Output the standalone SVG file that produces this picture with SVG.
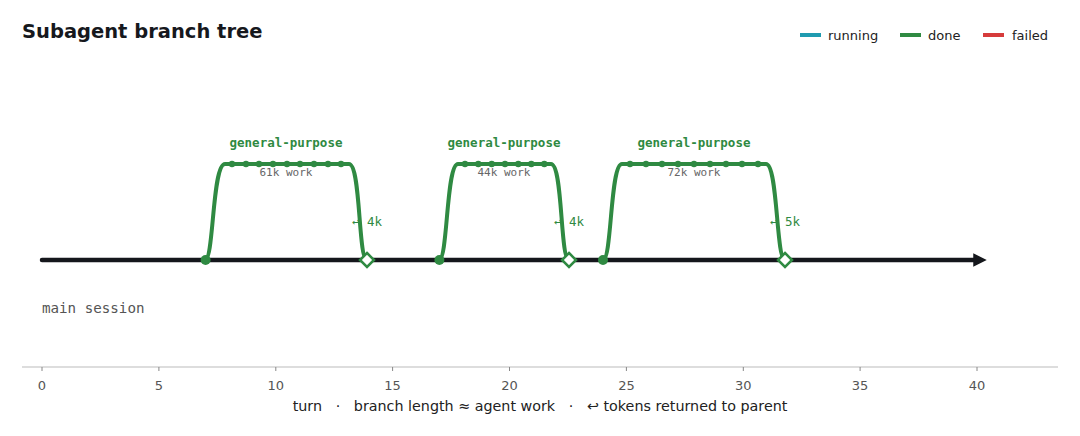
<svg xmlns="http://www.w3.org/2000/svg" width="1080" height="436" viewBox="0 0 1080 436">
<defs>
<style>
.title{font-family:"DejaVu Sans",sans-serif;font-weight:bold;font-size:19.5px;fill:#16181d}
.leg{font-family:"DejaVu Sans",sans-serif;font-size:13px;fill:#222}
.mono{font-family:"DejaVu Sans Mono",monospace}
.bl{font-size:12.5px;font-weight:bold;fill:#2f8a42}
.work{font-size:11px;fill:#666}
.ret{font-size:12.5px;fill:#2f8a42}
.tick{font-family:"DejaVu Sans",sans-serif;font-size:13px;fill:#555;text-anchor:middle}
.cap{font-family:"DejaVu Sans",sans-serif;font-size:14.3px;fill:#222;white-space:pre}
.branch{fill:none;stroke:#2f8a42;stroke-width:4;stroke-linejoin:round}
.dot{fill:#2f8a42}
.dia{fill:#fff;stroke:#2f8a42;stroke-width:2.5}
</style>
<marker id="arr" viewBox="0 0 10 10" refX="5" refY="5" markerWidth="3" markerHeight="3" orient="auto" markerUnits="strokeWidth">
<path d="M0,0 L10,5 L0,10 z" fill="#15171c"/>
</marker>
</defs>
<rect width="1080" height="436" fill="#fff"/>
<text class="title" x="22" y="38">Subagent branch tree</text>
<g id="legend">
<line x1="800" y1="35" x2="821" y2="35" stroke="#1f9bb0" stroke-width="4"/>
<text class="leg" x="828" y="40">running</text>
<line x1="900" y1="35" x2="921" y2="35" stroke="#2f8a42" stroke-width="4"/>
<text class="leg" x="928" y="40">done</text>
<line x1="983" y1="35" x2="1004" y2="35" stroke="#d63b3b" stroke-width="4"/>
<text class="leg" x="1012" y="40">failed</text>
</g>
<g id="axis">
<line x1="22" y1="367" x2="1058" y2="367" stroke="#bbb" stroke-width="1.2"/>
<g stroke="#888" stroke-width="1">
<line x1="42" y1="367" x2="42" y2="371"/>
<line x1="158.9" y1="367" x2="158.9" y2="371"/>
<line x1="275.8" y1="367" x2="275.8" y2="371"/>
<line x1="392.6" y1="367" x2="392.6" y2="371"/>
<line x1="509.5" y1="367" x2="509.5" y2="371"/>
<line x1="626.4" y1="367" x2="626.4" y2="371"/>
<line x1="743.3" y1="367" x2="743.3" y2="371"/>
<line x1="860.1" y1="367" x2="860.1" y2="371"/>
<line x1="977" y1="367" x2="977" y2="371"/>
</g>
<text class="tick" x="42" y="390">0</text>
<text class="tick" x="158.9" y="390">5</text>
<text class="tick" x="275.8" y="390">10</text>
<text class="tick" x="392.6" y="390">15</text>
<text class="tick" x="509.5" y="390">20</text>
<text class="tick" x="626.4" y="390">25</text>
<text class="tick" x="743.3" y="390">30</text>
<text class="tick" x="860.1" y="390">35</text>
<text class="tick" x="977" y="390">40</text>
<text class="cap" x="540" y="411" text-anchor="middle">turn   ·   branch length ≈ agent work   ·   ↩ tokens returned to parent</text>
</g>
<g id="connectors">
<line id="main-line" x1="42" y1="260" x2="980" y2="260" stroke="#15171c" stroke-width="4.5" stroke-linecap="round" marker-end="url(#arr)"/>
<path class="branch" d="M205,260 C214,260 212,164 225,164 L349,164 C361,164 358,260 367,260"/>
<path class="branch" d="M439,260 C448,260 446,164 458,164 L551,164 C563,164 560,260 569,260"/>
<path class="branch" d="M603,260 C612,260 610,164 622,164 L766,164 C778,164 776,260 785,260"/>
</g>
<text class="mono" x="42" y="313" font-size="14.2" fill="#555">main session</text>
<g id="branch1">
<circle class="dot" cx="205.6" cy="260" r="5"/>
<g class="dot">
<circle cx="232" cy="164" r="3.2"/><circle cx="246" cy="164" r="3.2"/><circle cx="259" cy="164" r="3.2"/><circle cx="273" cy="164" r="3.2"/><circle cx="287" cy="164" r="3.2"/><circle cx="300" cy="164" r="3.2"/><circle cx="314" cy="164" r="3.2"/><circle cx="328" cy="164" r="3.2"/><circle cx="341" cy="164" r="3.2"/>
</g>
<path class="dia" d="M367,253 L374,260 L367,267 L360,260 z"/>
<text class="mono bl" x="286" y="147" text-anchor="middle">general-purpose</text>
<text class="mono work" x="286" y="176" text-anchor="middle">61k work</text>
<text class="mono ret" x="352" y="226">↩ 4k</text>
</g>
<g id="branch2">
<circle class="dot" cx="439.4" cy="260" r="5"/>
<g class="dot">
<circle cx="465" cy="164" r="3.2"/><circle cx="478.3" cy="164" r="3.2"/><circle cx="491.7" cy="164" r="3.2"/><circle cx="505" cy="164" r="3.2"/><circle cx="518.3" cy="164" r="3.2"/><circle cx="531.3" cy="164" r="3.2"/><circle cx="544.3" cy="164" r="3.2"/>
</g>
<path class="dia" d="M569,253 L576,260 L569,267 L562,260 z"/>
<text class="mono bl" x="504" y="147" text-anchor="middle">general-purpose</text>
<text class="mono work" x="504" y="176" text-anchor="middle">44k work</text>
<text class="mono ret" x="554" y="226">↩ 4k</text>
</g>
<g id="branch3">
<circle class="dot" cx="603" cy="260" r="5"/>
<g class="dot">
<circle cx="630" cy="164" r="3.2"/><circle cx="646" cy="164" r="3.2"/><circle cx="662" cy="164" r="3.2"/><circle cx="678" cy="164" r="3.2"/><circle cx="694" cy="164" r="3.2"/><circle cx="710" cy="164" r="3.2"/><circle cx="726" cy="164" r="3.2"/><circle cx="742" cy="164" r="3.2"/><circle cx="758" cy="164" r="3.2"/>
</g>
<path class="dia" d="M785,253 L792,260 L785,267 L778,260 z"/>
<text class="mono bl" x="694" y="147" text-anchor="middle">general-purpose</text>
<text class="mono work" x="694" y="176" text-anchor="middle">72k work</text>
<text class="mono ret" x="770" y="226">↩ 5k</text>
</g>
</svg>
